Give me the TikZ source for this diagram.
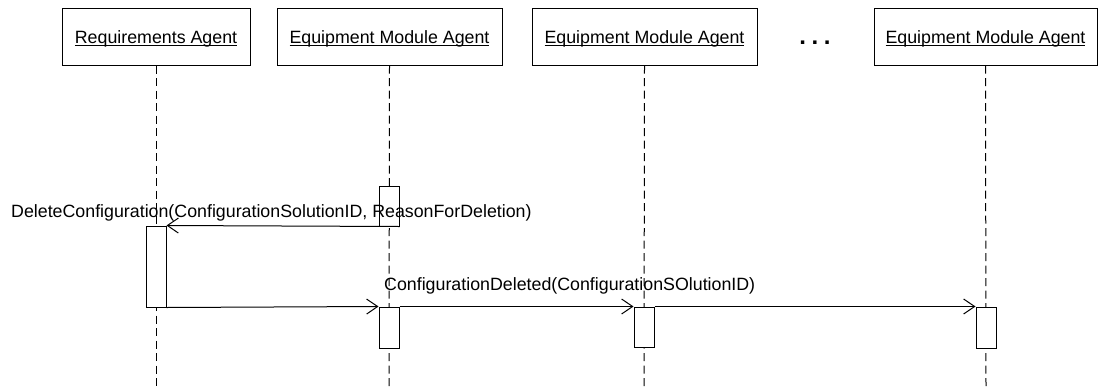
\documentclass[tikz,border=0pt]{standalone}
\usepackage{fontspec}
\setmainfont{Liberation Sans}
\usetikzlibrary{arrows.meta}
\newcommand\ulx[1]{\setbox0\hbox{#1}\rlap{\rule[-2.6pt]{\wd0}{1pt}}\box0}
\begin{document}
\begin{tikzpicture}[x=1pt,y=-1pt,
  every node/.style={font=\fontsize{17.8}{20}\selectfont},
  agentbox/.style={draw=black,line width=1pt,fill=white,inner sep=0pt,minimum height=57pt,text height=14pt,text depth=1pt},
  life/.style={draw=black,line width=1pt,dash pattern=on 8pt off 4.5pt},
  actbox/.style={draw=black,line width=1pt,fill=white,inner sep=0pt,minimum width=20pt},
  msg/.style={draw=black,line width=1pt,-{Straight Barb[length=11pt,width=15pt,line width=1pt]}},
  lbl/.style={inner sep=0pt,anchor=base west}]
\useasboundingbox (0,0) rectangle (1098,389);
% agents
\node[agentbox,minimum width=188pt] (a1) at (156,36.5) {\ulx{Requirements Agent}};
\node[agentbox,minimum width=225pt] (a2) at (389.5,36.5) {\ulx{Equipment Module Agent}};
\node[agentbox,minimum width=225pt] (a3) at (644.5,36.5) {\ulx{Equipment Module Agent}};
\node[agentbox,minimum width=223pt] (a4) at (985.5,36.5) {\ulx{Equipment Module Agent}};
\node[inner sep=0pt,anchor=base,font=\fontsize{24}{26}\selectfont\bfseries] (dots) at (815,44) {.\kern5.6pt.\kern5.6pt.};
% lifelines
\coordinate (e1) at (156,389);
\coordinate (e2) at (389,389);
\coordinate (e3) at (644,389);
\coordinate (e4) at (986,389);
\draw[life] (a1.south) -- (e1);
\draw[life] (a2.south) -- (e2);
\draw[life] (a3.south) -- (e3);
\draw[life] (a4.south) -- (e4);
% activations
\node[actbox,minimum height=81pt] (act1) at (156,266.5) {};
\node[actbox,minimum height=40pt] (act2s) at (389,206) {};
\node[actbox,minimum height=41pt] (act2) at (389,327.5) {};
\node[actbox,minimum height=40pt] (act3) at (644,327) {};
\node[actbox,minimum height=41pt] (act4) at (986,327.5) {};
% messages
\draw[msg] (act2s.south east) -- (act1.north east);
\draw[msg] (act1.south east) -- (act2.north west);
\draw[msg] (act2.north east) -- (act3.north west);
\draw[msg] (act3.north east) -- (act4.north west);
% labels
\node[lbl] (m1) at (11,217) {DeleteConfiguration(ConfigurationSolutionID, ReasonForDeletion)};
\node[lbl] (m2) at (384,290) {ConfigurationDeleted(ConfigurationSOlutionID)};
\end{tikzpicture}
\end{document}
